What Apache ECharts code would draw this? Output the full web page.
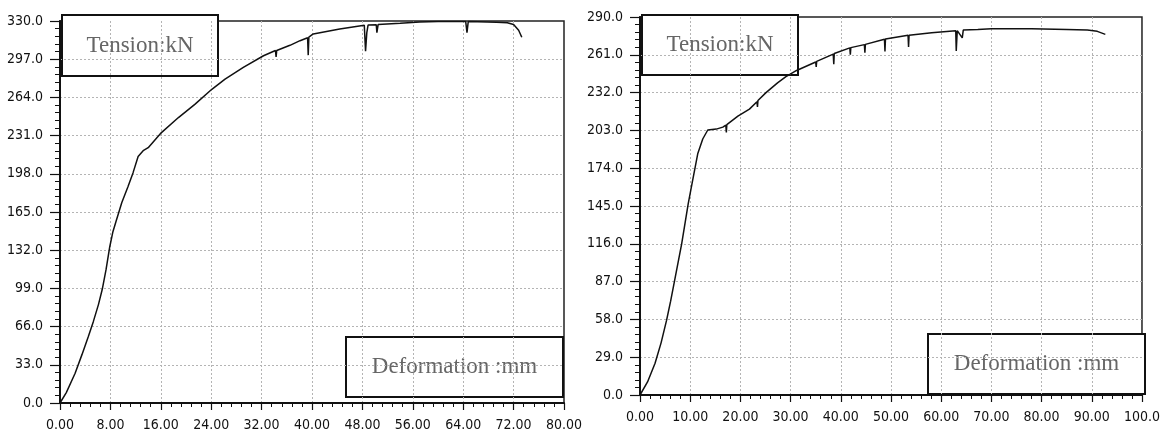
<!DOCTYPE html>
<html>
<head>
<meta charset="utf-8">
<script src="https://cdn.jsdelivr.net/npm/echarts@6/dist/echarts.min.js"></script>
<style>
  html, body { margin: 0; padding: 0; background: #fff; }
  #main { width: 1163px; height: 437px; }
</style>
</head>
<body>
<div id="main"></div>
<script>
// left test: deformation (mm) / tension (kN)
var defLeft = [0, 1.0, 2.4, 3.5, 4.5, 5.3, 6.1, 6.7, 7.3, 7.9, 8.4, 8.9, 9.8, 10.8, 11.6, 12.4, 13.2, 14.0,
  16.1, 18.8, 21.4, 24.1, 26.2, 29.1, 32.3, 34.2, 34.3, 34.4, 36.5, 38.1, 39.3, 39.4, 39.5,
  40.2, 44.4, 48.3, 48.5, 48.7, 48.9, 50.2, 50.3, 50.5, 54.0, 57.1, 60.0, 64.4, 64.6, 64.8,
  69.3, 71.0, 72.0, 72.8, 73.3];
var tenLeft = [0, 9, 25.7, 42, 57.5, 70.5, 85, 98, 115, 135, 148, 157, 173, 187, 199, 213, 218, 220.6,
  233.6, 246.6, 258, 271, 279.8, 290, 300, 304.5, 299, 304.5, 309, 313, 315.5, 300.5, 316,
  318.8, 323, 326.3, 304, 320, 326.5, 326.8, 320, 327, 328, 329.2, 329.5, 329.5, 320, 329.5,
  329, 328.5, 327, 322, 316];

// right test
var defRight = [0, 1.5, 3.0, 4.2, 5.3, 6.1, 6.9, 8.3, 9.6, 10.6, 11.5, 12.5, 13.5, 15.2, 16.5,
  17.1, 17.2, 17.3, 19.5, 21.8, 23.3, 23.4, 23.5, 25.1, 27.4, 29.0, 31.2, 35.0, 35.1, 35.2,
  38.5, 38.6, 38.7, 41.8, 41.9, 42.0, 44.7, 44.8, 44.9, 48.7, 48.8, 48.9, 53.4, 53.5, 53.6,
  58.1, 62.9, 63.0, 63.2, 64.2, 64.4, 67.3, 70.0, 78.0, 85.0, 89.1, 91.1, 92.7];
var tenRight = [0, 10, 24.3, 40, 57.4, 72, 88, 116, 146.7, 167, 185, 196.4, 203.3, 204, 205.5,
  207, 201.5, 207.5, 214, 219.3, 225, 221, 226, 232, 239.5, 244, 249, 255.5, 251.7, 256,
  261.5, 253.8, 262, 266.3, 261, 266.5, 268.8, 262.7, 269, 273, 263.5, 273.2, 276, 267, 276,
  278, 279.5, 264, 279.5, 274, 280, 280.5, 281, 281, 280.5, 280, 279, 276.7];

// axis ranges: [max, step]
var xAxisLeft = [80, 8];
var yAxisLeft = [330, 33];
var xAxisRight = [100, 10];
var yAxisRight = [290, 29];

var yTitle = "Tension:kN";
var xTitle = "Deformation :mm";

function pairs(xs, ys) {
  var out = [];
  for (var i = 0; i < xs.length; i++) {
    out.push([xs[i], ys[i]]);
  }
  return out;
}

var labelFont = "'Liberation Sans Narrow', 'Arial Narrow', 'DejaVu Sans Condensed', sans-serif";
var gridLine = { color: '#b4b4b4', type: [2, 2], width: 1 };

function makeX(idx, range) {
  return {
    type: 'value', gridIndex: idx, min: 0, max: range[0], interval: range[1],
    axisLine: { show: true, lineStyle: { color: '#111', width: 2 } },
    axisTick: { show: true, length: 7, lineStyle: { color: '#111', width: 1.2 } },
    minorTick: { show: true, splitNumber: 5, length: 4, lineStyle: { color: '#111', width: 1 } },
    splitLine: { show: true, showMinLine: false, showMaxLine: false, lineStyle: gridLine },
    axisLabel: {
      margin: 15, color: '#111', fontSize: 14, fontFamily: labelFont,
      formatter: function (v) { return v.toFixed(2).slice(0, 5); }
    }
  };
}

function makeY(idx, range) {
  return {
    type: 'value', gridIndex: idx, min: 0, max: range[0], interval: range[1],
    axisLine: { show: true, lineStyle: { color: '#111', width: 2 } },
    axisTick: { show: true, length: 10, lineStyle: { color: '#111', width: 1.2 } },
    minorTick: { show: true, splitNumber: 5, length: 5, lineStyle: { color: '#111', width: 1 } },
    splitLine: { show: true, showMinLine: false, showMaxLine: false, lineStyle: gridLine },
    axisLabel: {
      margin: 17, color: '#111', fontSize: 14, fontFamily: labelFont,
      formatter: function (v) { return v.toFixed(1); }
    }
  };
}

function box(x, y, w, h, text) {
  return {
    type: 'group', z: 100,
    children: [
      { type: 'rect', shape: { x: x, y: y, width: w, height: h },
        style: { fill: '#fff', stroke: '#111', lineWidth: 2 } },
      { type: 'text', style: { x: x + w / 2, y: y + h / 2, text: text, align: 'center', verticalAlign: 'middle',
        font: '23px "Liberation Serif", "Times New Roman", serif', fill: '#666' } }
    ]
  };
}

var myChart = echarts.init(document.getElementById('main'));

var option = {
  backgroundColor: '#fff',
  animation: false,
  grid: [
    { left: 60, top: 21, width: 504, height: 382, show: true, borderColor: '#222', borderWidth: 1.5 },
    { left: 640, top: 17, width: 505, height: 378, show: true, borderColor: '#222', borderWidth: 1.5 }
  ],
  xAxis: [makeX(0, xAxisLeft), makeX(1, xAxisRight)],
  yAxis: [makeY(0, yAxisLeft), makeY(1, yAxisRight)],
  series: [
    { type: 'line', xAxisIndex: 0, yAxisIndex: 0, data: pairs(defLeft, tenLeft),
      showSymbol: false, lineStyle: { color: '#111', width: 1.5 } },
    { type: 'line', xAxisIndex: 1, yAxisIndex: 1, data: pairs(defRight, tenRight),
      showSymbol: false, lineStyle: { color: '#111', width: 1.5 } }
  ],
  graphic: [
    box(62, 15, 156, 61, yTitle),
    box(346, 337, 217, 60, xTitle),
    box(642, 15, 156, 60, yTitle),
    box(928, 334, 217, 60, xTitle)
  ]
};

myChart.setOption(option);
</script>
</body>
</html>
